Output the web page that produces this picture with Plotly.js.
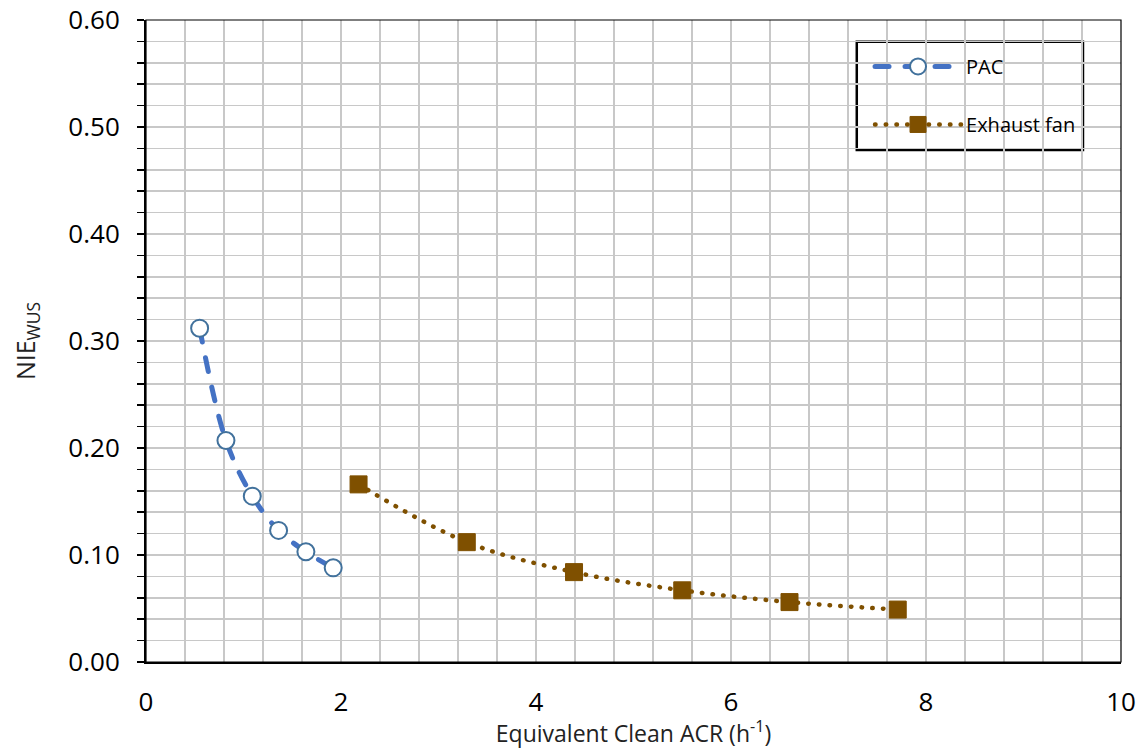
<!DOCTYPE html>
<html>
<head>
<meta charset="utf-8">
<script src="https://cdn.plot.ly/plotly-3.0.1.min.js"></script>
<style>
html,body{margin:0;padding:0;background:#fff;}
#chart{width:1140px;height:749px;}
#chart path.js-line{stroke-linecap:round;}
</style>
</head>
<body>
<div id="chart"></div>
<script>
const pacX = [0.55, 0.82, 1.09, 1.36, 1.64, 1.92];
const pacY = [0.312, 0.207, 0.155, 0.123, 0.103, 0.088];
const fanX = [2.18, 3.29, 4.39, 5.5, 6.6, 7.71];
const fanY = [0.166, 0.112, 0.084, 0.067, 0.056, 0.049];
const seriesNames = ["PAC", "Exhaust fan"];
const xTitle = "Equivalent Clean ACR (h<sup>-1</sup>)";
const yTitle = "NIE<sub>WUS</sub>";

const FONT = "Open Sans";
const traces = [
  {
    x: pacX, y: pacY, name: seriesNames[0], legendgroup: "a", type: "scatter", mode: "lines+markers",
    line: {color: "#4472C4", width: 5, dash: "14px,16px", shape: "spline"},
    marker: {symbol: "circle", size: 17, color: "#ffffff", line: {color: "#41719C", width: 2}}
  },
  {
    x: fanX, y: fanY, name: seriesNames[1], legendgroup: "b", type: "scatter", mode: "lines+markers",
    line: {color: "#7F5000", width: 4.5, dash: "0.5px,10.2px", shape: "spline"},
    marker: {symbol: "square", size: 17, color: "#7F5000", line: {color: "#7F5000", width: 1}}
  }
];

const layout = {
  width: 1140, height: 749,
  margin: {l: 146, r: 19, t: 20, b: 87},
  paper_bgcolor: "#ffffff", plot_bgcolor: "#ffffff",
  font: {family: FONT, color: "#000"},
  showlegend: true,
  legend: {
    x: 0.7426, y: 0.958, xanchor: "left", yanchor: "top",
    bgcolor: "rgba(0,0,0,0)", borderwidth: 0,
    font: {size: 20, family: FONT, color: "#000"},
    tracegroupgap: 29, itemwidth: 86
  },
  xaxis: {
    range: [0, 10], dtick: 2, tick0: 0,
    showgrid: true, gridcolor: "#c8c8c8", gridwidth: 1.5,
    minor: {dtick: 0.4, showgrid: true, gridcolor: "#c8c8c8", gridwidth: 1.5},
    showline: true, linecolor: "#000", linewidth: 2,
    ticks: "outside", ticklen: 8, tickcolor: "rgba(0,0,0,0)", ticklabelstandoff: 8,
    zeroline: false,
    tickfont: {size: 26, family: FONT, color: "#000"},
    title: {text: xTitle, font: {size: 23, family: FONT, color: "#222"}, standoff: 10}
  },
  yaxis: {
    range: [0, 0.6], dtick: 0.1, tick0: 0, tickformat: ".2f",
    showgrid: true, gridcolor: "#c8c8c8", gridwidth: 1.5,
    minor: {dtick: 0.02, showgrid: true, gridcolor: "#c8c8c8", gridwidth: 1.5, ticks: "outside", ticklen: 7, tickcolor: "#000", tickwidth: 1.5},
    showline: true, linecolor: "#000", linewidth: 2,
    ticks: "outside", ticklen: 7, tickcolor: "#000", tickwidth: 1.5, ticklabelstandoff: 12,
    zeroline: false,
    tickfont: {size: 26, family: FONT, color: "#000"},
    title: {text: yTitle, font: {size: 25, family: FONT, color: "#222"}, standoff: 26}
  },
  shapes: [
    {type: "rect", xref: "paper", yref: "paper", x0: 0, x1: 1, y0: 0, y1: 1,
     line: {color: "#000", width: 1.2}, fillcolor: "rgba(0,0,0,0)", layer: "above"},
    {type: "rect", xref: "paper", yref: "paper", x0: 0.729, x1: 0.961, y0: 0.7975, y1: 0.966,
     line: {color: "#000", width: 2.5}, fillcolor: "#ffffff", layer: "between"}
  ]
};

Plotly.newPlot("chart", traces, layout, {displayModeBar: false, staticPlot: true});
</script>
</body>
</html>
